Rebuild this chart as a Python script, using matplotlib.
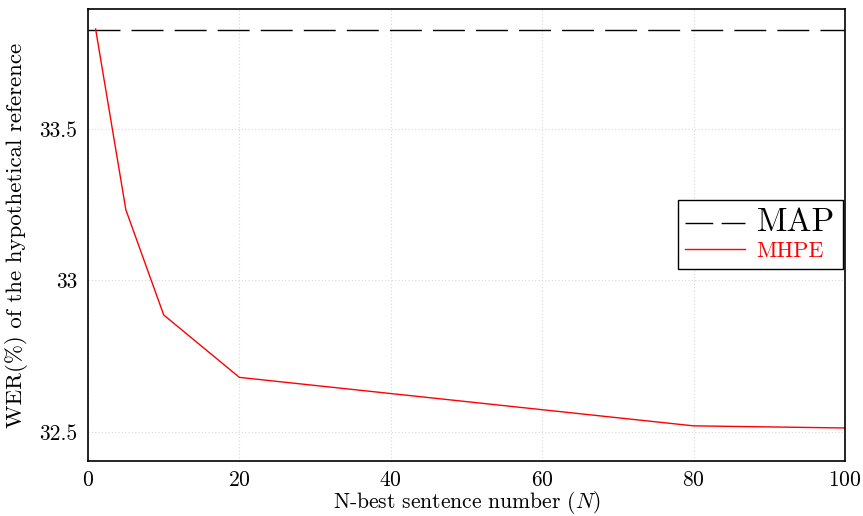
import matplotlib
matplotlib.use("Agg")
import matplotlib.pyplot as plt
from matplotlib.lines import Line2D

plt.rcParams['font.family'] = ['cmr10', 'DejaVu Serif']
plt.rcParams['mathtext.fontset'] = 'cm'
plt.rcParams['axes.formatter.use_mathtext'] = True

n_best = [1, 5, 10, 20, 80, 100]
mhpe = [33.83, 33.233, 32.886, 32.68, 32.52, 32.513]
map_wer = 33.827

fig = plt.figure(figsize=(8.63, 5.16), dpi=100)
ax = fig.add_axes([0.102, 0.1066, 0.877, 0.876])

ax.axhline(map_wer, color='black', lw=1.0, dashes=(23, 8))
ax.plot(n_best, mhpe, color='red', lw=1.0)

ax.set_xlim(0, 100)
ax.set_ylim(32.404, 33.896)
ax.set_xticks([0, 20, 40, 60, 80, 100])
ax.set_yticks([32.5, 33, 33.5])
ax.set_yticklabels(['32.5', '33', '33.5'])
ax.tick_params(length=0, labelsize=15.5, pad=8)
ax.tick_params(axis='x', pad=7)
ax.grid(True, color='#d8d8d8', ls=(0, (1, 2)), lw=0.8)
for s in ax.spines.values():
    s.set_linewidth(1.2)

ax.set_xlabel(r'N-best sentence number ($N$)', fontsize=15.5, labelpad=-1)
ax.set_ylabel('WER(%) of the hypothetical reference', fontsize=16.5, labelpad=8)

# legend proxies: the handle shows two shorter dashes
h_map = Line2D([], [], color='black', lw=1.0, dashes=(20, 6))
h_mhpe = Line2D([], [], color='red', lw=1.0)
leg = ax.legend([h_map, h_mhpe], ['MAP', 'MHPE'], loc='upper right',
                bbox_to_anchor=(0.997, 0.577), borderaxespad=0, fancybox=False,
                fontsize=16, edgecolor='black', framealpha=1, handlelength=2.7,
                borderpad=0.35, labelspacing=0.2, handletextpad=0.5)
leg.get_frame().set_linewidth(1.0)
txts = leg.get_texts()
txts[0].set_fontsize(24)
txts[1].set_color('red')

fig.savefig('out.png', dpi=100)
